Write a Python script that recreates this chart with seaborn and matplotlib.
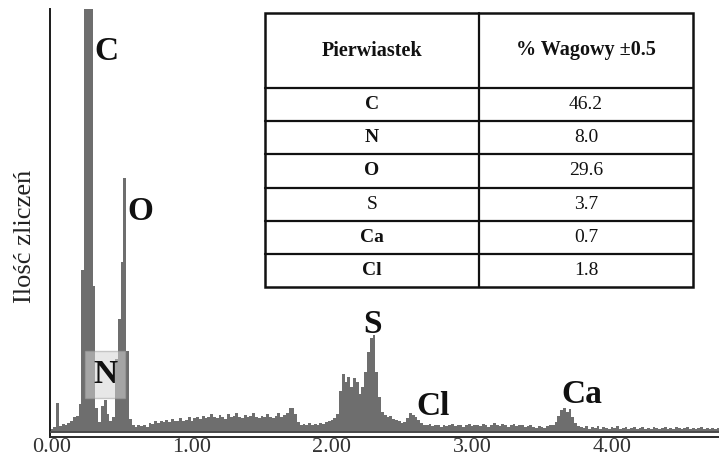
import numpy as np
import pandas as pd
import matplotlib
matplotlib.use("Agg")
import matplotlib.pyplot as plt
import seaborn as sns

# EDS spectrum: counts per 0.02 keV channel, starting at 0.00 keV
channel_width_kev = 0.02
counts = [
    20, 30, 180, 35, 50, 40, 55, 70, 95, 100,            # 0.00 - 0.18
    170, 1000, 3300, 5000, 3300, 900, 150, 60, 160, 200,  # 0.20 - 0.38
    110, 70, 90, 450, 700, 1050, 1570, 500, 80, 40,       # 0.40 - 0.58
    30, 45, 35, 40, 30, 55, 50, 65, 55, 70,               # 0.60 - 0.78
    60, 75, 60, 80, 65, 70, 85, 65, 75, 90,               # 0.80 - 0.98
    70, 85, 95, 80, 100, 85, 95, 110, 90, 85,             # 1.00 - 1.18
    105, 95, 80, 110, 90, 100, 115, 95, 85, 105,          # 1.20 - 1.38
    90, 100, 120, 95, 85, 100, 90, 110, 95, 85,           # 1.40 - 1.58
    100, 115, 95, 105, 120, 145, 150, 110, 60, 45,        # 1.60 - 1.78
    50, 40, 55, 45, 50, 40, 55, 50, 60, 65,               # 1.80 - 1.98
    75, 85, 110, 250, 360, 310, 340, 280, 330, 310,       # 2.00 - 2.18
    235, 280, 370, 495, 580, 600, 370, 215, 125, 105,     # 2.20 - 2.38
    95, 100, 80, 75, 70, 55, 60, 85, 115, 105,            # 2.40 - 2.58
    95, 75, 55, 45, 40, 50, 35, 45, 40, 30,               # 2.60 - 2.78
    45, 35, 40, 50, 35, 45, 40, 30, 45, 50,               # 2.80 - 2.98
    35, 40, 45, 35, 50, 40, 30, 45, 55, 40,               # 3.00 - 3.18
    35, 50, 45, 30, 40, 50, 35, 45, 40, 30,               # 3.20 - 3.38
    35, 45, 30, 25, 35, 30, 25, 35, 40, 45,               # 3.40 - 3.58
    60, 100, 135, 150, 125, 140, 95, 55, 35, 30,          # 3.60 - 3.78
    25, 35, 20, 30, 25, 35, 20, 30, 25, 20,               # 3.80 - 3.98
    30, 25, 35, 20, 25, 30, 20, 25, 30, 20,               # 4.00 - 4.18
    25, 30, 20, 25, 20, 30, 25, 20, 25, 30,               # 4.20 - 4.38
    20, 25, 20, 30, 25, 20, 25, 30, 20, 25,               # 4.40 - 4.58
    20, 25, 30, 20, 25, 20, 25, 20, 25,                   # 4.60 - 4.76
]
energy_kev = np.round(np.arange(len(counts)) * channel_width_kev, 2)

# Peak labels: element, energy (keV) and count level of the label baseline
peak_names = ["C", "O", "N", "S", "Cl", "Ca"]
peak_label_e = [0.386, 0.629, 0.379, 2.286, 2.721, 3.786]
peak_label_y = [2295, 1308, 302, 611, 105, 179]

# Composition table
table_header = ["Pierwiastek", "% Wagowy ±0.5"]
table_elements = ["C", "N", "O", "S", "Ca", "Cl"]
table_wt = ["46.2", "8.0", "29.6", "3.7", "0.7", "1.8"]
element_bold = [True, True, True, False, True, True]

x_ticks = [0, 1, 2, 3, 4]
x_tick_labels = ["0.00", "1.00", "2.00", "3.00", "4.00"]
y_ticks = [0, 500, 1000, 1500, 2000, 2500]

sns.set_style("white")
plt.rcParams["font.family"] = ["Liberation Serif", "DejaVu Serif"]

W, H = 719, 459
fig = plt.figure(figsize=(W / 100, H / 100), dpi=100)
ax = fig.add_axes([50 / W, 22 / H, (W - 50) / W, (437 - 9) / H])

spec = pd.DataFrame({"energy": energy_kev, "counts": counts})
half = channel_width_kev / 2
sns.histplot(data=spec, x="energy", weights="counts", bins=len(counts),
             binrange=(energy_kev[0] - half, energy_kev[-1] + half),
             element="step", fill=True, color="#6e6e6e", alpha=1.0,
             linewidth=0, ax=ax)

ax.set_xlim(-0.014, 4.764)
ax.set_ylim(-31, 2610)
ax.axhline(0, color="#4a4a4a", lw=1.4, zorder=3)

ax.set_xticks(x_ticks)
ax.set_xticklabels(x_tick_labels, fontsize=16, color="#333333")
ax.set_yticks(y_ticks)
ax.set_yticklabels([])
ax.tick_params(axis="x", length=0, pad=1)
ax.tick_params(axis="y", length=2.5, width=1.2, color="#222222", direction="out")
ax.set_xlabel("")
ax.set_ylabel("")

for side in ["top", "right"]:
    ax.spines[side].set_visible(False)
ax.spines["left"].set_color("#1a1a1a")
ax.spines["left"].set_linewidth(1.4)
ax.spines["bottom"].set_color("#2a2a2a")
ax.spines["bottom"].set_linewidth(1.4)

for name, ex, ey in zip(peak_names, peak_label_e, peak_label_y):
    kw = {}
    if name == "N":
        kw["bbox"] = dict(boxstyle="square,pad=0.25", facecolor="#d4d4d4",
                          edgecolor="#a0a0a0", alpha=0.55, lw=1)
    ax.text(ex, ey, name, ha="center", va="baseline", fontsize=24,
            fontweight="bold", color="#111111", zorder=4, **kw)

fig.text(25 / W, 1 - 236 / H, "Ilość zliczeń", rotation=90, ha="center",
         va="center", fontsize=19, color="#222222")

# Composition table drawn in its own axes (units: pixels of the table box)
tx0, ty0, tw, th = 265, 13, 428, 274
tab = fig.add_axes([tx0 / W, 1 - (ty0 + th) / H, tw / W, th / H])
tab.set_xlim(0, tw)
tab.set_ylim(th, 0)
tab.axis("off")
tab.add_patch(plt.Rectangle((0, 0), tw, th, facecolor="white",
                            edgecolor="#111111", lw=1.8, clip_on=False))
header_h = 75
row_h = (th - header_h) / len(table_elements)
col_x = 214
lw_grid = 1.6
tab.plot([col_x, col_x], [0, th], color="#111111", lw=lw_grid, clip_on=False)
tab.plot([0, tw], [header_h, header_h], color="#111111", lw=lw_grid,
         clip_on=False)
for i in range(1, len(table_elements)):
    yy = header_h + i * row_h
    tab.plot([0, tw], [yy, yy], color="#111111", lw=lw_grid, clip_on=False)

c1, c2 = col_x / 2, (col_x + tw) / 2
tab.text(c1, header_h / 2, table_header[0], ha="center", va="center",
         fontsize=14.5, fontweight="bold", color="#111111")
tab.text(c2, header_h / 2, table_header[1], ha="center", va="center",
         fontsize=14.5, fontweight="bold", color="#111111")
for i, (el, wt, b) in enumerate(zip(table_elements, table_wt, element_bold)):
    yc = header_h + (i + 0.5) * row_h
    tab.text(c1, yc, el, ha="center", va="center", fontsize=14,
             fontweight="bold" if b else "normal", color="#111111")
    tab.text(c2, yc, wt, ha="center", va="center", fontsize=14,
             color="#111111")

fig.savefig("out.png", dpi=100)
